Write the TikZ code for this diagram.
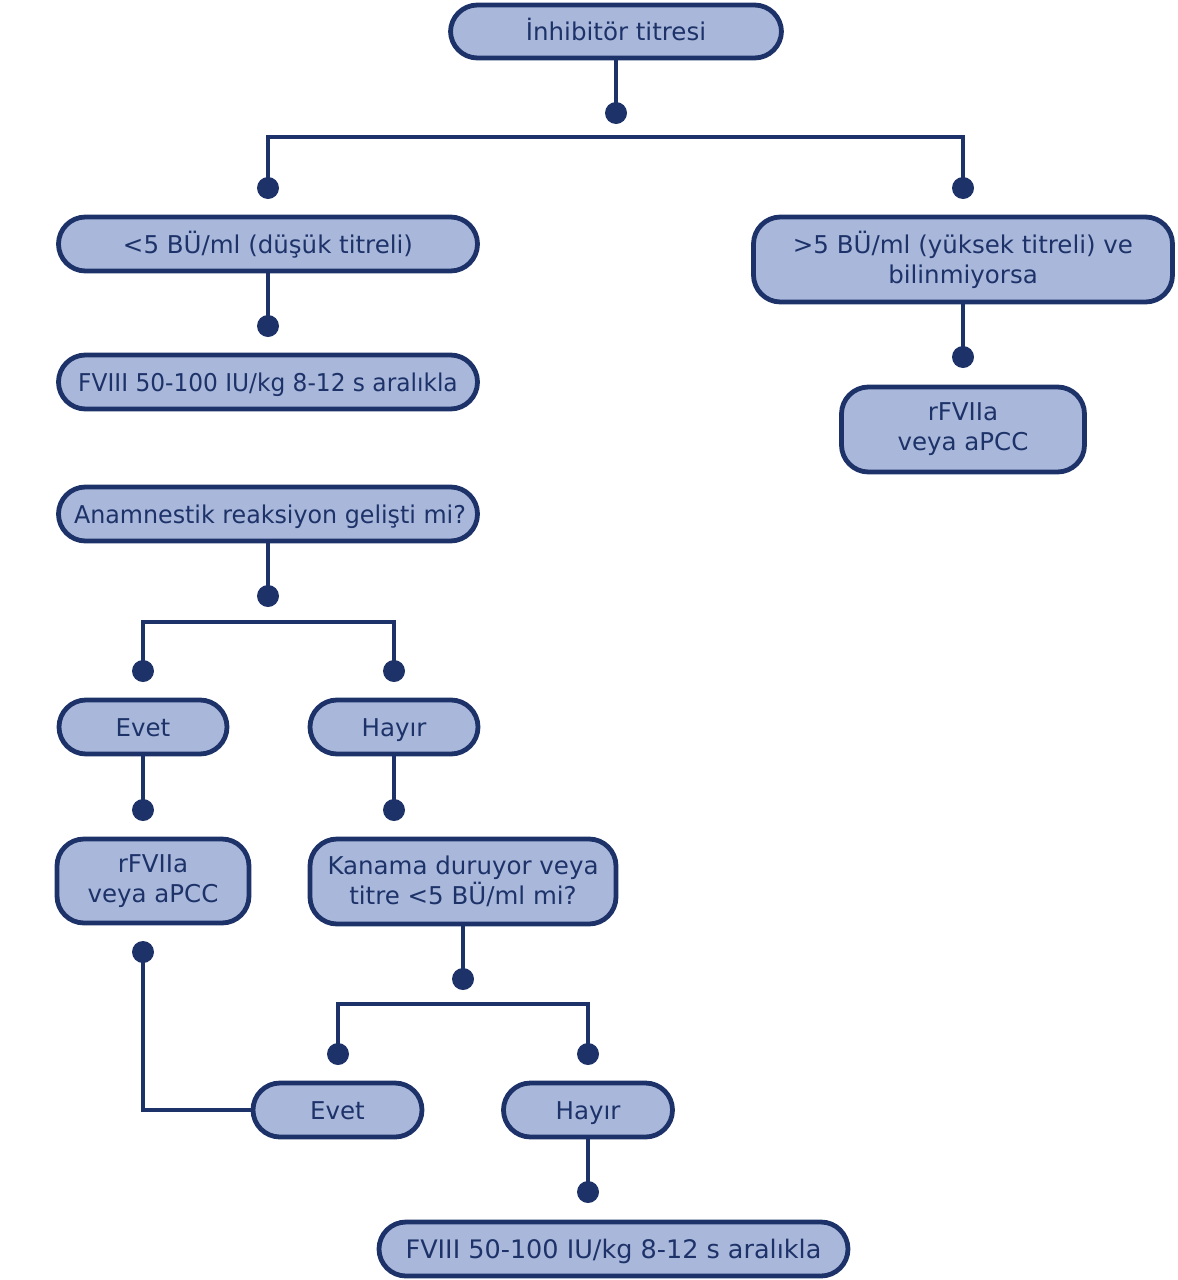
\documentclass[tikz,border=0pt]{standalone}
\usepackage{fontspec}
\usepackage{graphicx}
\setmainfont{DejaVu Sans}
\definecolor{boxfill}{HTML}{A9B8DA}
\definecolor{navy}{HTML}{1D3269}
\begin{document}
\begin{tikzpicture}[x=1pt,y=-1pt,
  box/.style={draw=navy,fill=boxfill,line width=4.8pt,rounded corners=27pt,
    inner sep=0pt,align=center,text=navy,
    font=\fontsize{24.5}{30}\selectfont},
  single/.style={box,text height=22pt,text depth=4pt,minimum height=54pt},
  dotnode/.style={circle,fill=navy,inner sep=0pt,minimum size=22pt},
  conn/.style={draw=navy,line width=4.5pt}]
\useasboundingbox (0,0) rectangle (1178,1280);
% boxes
\node[single,minimum width=331pt,minimum height=53pt] (top) at (616,31.5) {İnhibitör titresi};
\node[single,minimum width=419pt] (low) at (268,244) {<5 BÜ/ml (düşük titreli)};
\node[box,minimum width=419pt,minimum height=85pt] (high) at (963,259.5) {>5 BÜ/ml (yüksek titreli) ve\\bilinmiyorsa};
\node[single,minimum width=419pt] (fviiiA) at (268,382) {\scalebox{0.95}[1]{FVIII 50-100 IU/kg 8-12 s aralıkla}};
\node[box,minimum width=243pt,minimum height=85pt] (rfR) at (963,429.5) {rFVIIa\\veya aPCC};
\node[single,minimum width=419pt] (ana) at (268,514) {\hspace{4pt}\scalebox{0.97}[1]{Anamnestik reaksiyon gelişti mi?}};
\node[single,minimum width=168pt] (evet1) at (143,727) {Evet};
\node[single,minimum width=168pt] (hayir1) at (394,727) {Hayır};
\node[box,minimum width=192pt,minimum height=84pt] (rfL) at (153,881) {rFVIIa\\veya aPCC};
\node[box,minimum width=306pt,minimum height=85pt] (kan) at (463,881.5) {Kanama duruyor veya\\titre <5 BÜ/ml mi?};
\node[single,minimum width=169pt] (evet2) at (337.5,1110) {Evet};
\node[single,minimum width=169pt] (hayir2) at (588,1110) {Hayır};
\node[single,minimum width=469pt,font=\fontsize{25.5}{30}\selectfont] (fviiiB) at (613.5,1249) {FVIII 50-100 IU/kg 8-12 s aralıkla};
% dots
\node[dotnode] (d0) at (616,113) {};
\node[dotnode] (dL) at (268,188) {};
\node[dotnode] (dR) at (963,188) {};
\node[dotnode] (d1) at (268,326) {};
\node[dotnode] (d2) at (963,357) {};
\node[dotnode] (d3) at (268,596) {};
\node[dotnode] (dE1) at (143,671) {};
\node[dotnode] (dH1) at (394,671) {};
\node[dotnode] (d4) at (143,810) {};
\node[dotnode] (d5) at (394,810) {};
\node[dotnode] (d6) at (463,979) {};
\node[dotnode] (dE2) at (338,1054) {};
\node[dotnode] (dH2) at (588,1054) {};
\node[dotnode] (dB) at (143,952) {};
\node[dotnode] (d7) at (588,1192) {};
\coordinate (bar1) at (616,137);
\coordinate (bar2) at (268,622);
\coordinate (bar3) at (463,1004);
% connectors
\draw[conn] (top.south) -- (d0.center);
\draw[conn] (dL.center) -- (dL |- bar1) -- (dR |- bar1) -- (dR.center);
\draw[conn] (low.south) -- (d1.center);
\draw[conn] (high.south) -- (d2.center);
\draw[conn] (ana.south) -- (d3.center);
\draw[conn] (dE1.center) -- (dE1 |- bar2) -- (dH1 |- bar2) -- (dH1.center);
\draw[conn] (evet1.south) -- (d4.center);
\draw[conn] (hayir1.south) -- (d5.center);
\draw[conn] (kan.south) -- (d6.center);
\draw[conn] (dE2.center) -- (dE2 |- bar3) -- (dH2 |- bar3) -- (dH2.center);
\draw[conn] (evet2.west) -| (dB.center);
\draw[conn] (hayir2.south) -- (d7.center);
\end{tikzpicture}
\end{document}
